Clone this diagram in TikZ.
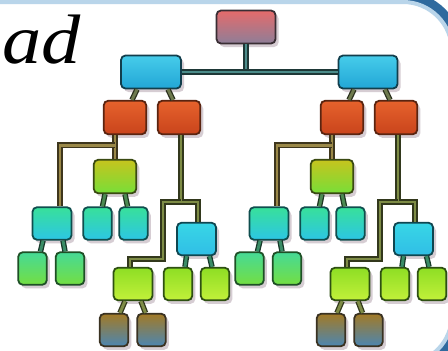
\documentclass[tikz,border=0pt]{standalone}
\usepackage{fontspec}
\setmainfont{Liberation Serif}
\usetikzlibrary{shadows,calc}

\definecolor{roottop}{HTML}{E56B6B}
\definecolor{rootbot}{HTML}{8E7E98}
\definecolor{rootline}{HTML}{3A2E34}
\definecolor{cyantop}{HTML}{46CCEA}
\definecolor{cyanbot}{HTML}{22A6D6}
\definecolor{cyanline}{HTML}{123E4C}
\definecolor{orangetop}{HTML}{E6622C}
\definecolor{orangebot}{HTML}{C9441C}
\definecolor{orangeline}{HTML}{5A2410}
\definecolor{yellowtop}{HTML}{C6C41E}
\definecolor{yellowbot}{HTML}{78DE38}
\definecolor{yellowline}{HTML}{3A4A12}
\definecolor{tealtop}{HTML}{38E09A}
\definecolor{tealbot}{HTML}{2CC6E4}
\definecolor{tealline}{HTML}{0F4E4E}
\definecolor{greentop}{HTML}{46DA96}
\definecolor{greenbot}{HTML}{74DE42}
\definecolor{greenline}{HTML}{1E5026}
\definecolor{aquatop}{HTML}{38D6E6}
\definecolor{aquabot}{HTML}{30BEE6}
\definecolor{aqualine}{HTML}{0F4650}
\definecolor{limetop}{HTML}{8EDE24}
\definecolor{limebot}{HTML}{C2F03A}
\definecolor{limeline}{HTML}{2E5012}
\definecolor{browntop}{HTML}{A27A26}
\definecolor{brownbot}{HTML}{4C86B2}
\definecolor{brownline}{HTML}{3A3222}
\definecolor{shadowc}{HTML}{7A5A6E}
\definecolor{barc}{HTML}{4C8C8A}
\definecolor{olivea}{HTML}{6E7A4E}
\definecolor{olivel}{HTML}{9A8848}
\definecolor{oliveg}{HTML}{7E8C46}
\definecolor{greenl}{HTML}{4C8A52}
\definecolor{teall}{HTML}{3A8C66}
\definecolor{framedark}{HTML}{2F6A9E}
\definecolor{framelight}{HTML}{B9D5EA}

\begin{document}
\begin{tikzpicture}[x=1pt, y=-1pt,
    treebox/.style={rounded corners=4.5pt, line width=1.8pt, inner sep=0pt,
      minimum width=28.5pt, minimum height=32.5pt,
      drop shadow={shadow xshift=3pt, shadow yshift=-3.5pt, fill=shadowc, opacity=.3}},
    sizewide/.style={minimum width=59pt, minimum height=33pt},
    sizemid/.style={minimum width=42.5pt, minimum height=33.5pt},
    sizenarrow/.style={minimum width=39pt, minimum height=32.5pt},
    rootbox/.style={treebox, sizewide, draw=rootline, top color=roottop, bottom color=rootbot},
    cyanbox/.style={treebox, sizewide, draw=cyanline, top color=cyantop, bottom color=cyanbot},
    orangebox/.style={treebox, sizemid, draw=orangeline, top color=orangetop, bottom color=orangebot},
    yellowbox/.style={treebox, sizemid, draw=yellowline, top color=yellowtop, bottom color=yellowbot},
    tealbox/.style={treebox, draw=tealline, top color=tealtop, bottom color=tealbot},
    greenbox/.style={treebox, draw=greenline, top color=greentop, bottom color=greenbot},
    aquabox/.style={treebox, sizenarrow, draw=aqualine, top color=aquatop, bottom color=aquabot},
    limebox/.style={treebox, draw=limeline, top color=limetop, bottom color=limebot},
    brownbox/.style={treebox, draw=brownline, top color=browntop, bottom color=brownbot},
    link/.style={draw=#1!40!black, double=#1, line width=1.3pt, double distance=2.9pt}]
    \useasboundingbox (0,0) rectangle (448,351);
    % Frame
    \fill[white] (0,0) rectangle (448,351);
    \draw[framedark, line width=9pt, rounded corners=55pt] (-60,-4) rectangle (458,370);
    \draw[framelight, line width=4pt, rounded corners=49pt] (-54,2) rectangle (452,364);
    \node[font=\fontsize{70pt}{72pt}\selectfont\itshape, xscale=1.12, anchor=base east, inner sep=0pt] (W) at (81,63) {ad};
    % Nodes
    \node[rootbox] (R) at (246,27) {};
    \node[cyanbox, minimum width=60pt] (A) at (151,72) {};
    \node[cyanbox] (B) at (368,72) {};
    % left half
    \node[orangebox] (P1) at (125,117.5) {};
    \node[orangebox] (Q1) at (179,117.5) {};
    \node[yellowbox] (Y1) at (115,176.5) {};
    \node[tealbox, sizenarrow] (T1) at (52,223.5) {};
    \node[tealbox] (U1) at (97.5,223.5) {};
    \node[tealbox] (V1) at (133.5,223.5) {};
    \node[greenbox] (G1) at (32.5,268.5) {};
    \node[greenbox] (H1) at (70,268.5) {};
    \node[aquabox] (C1) at (196.5,239) {};
    \node[limebox, sizenarrow] (K1) at (133,284) {};
    \node[limebox] (L1) at (178,284) {};
    \node[limebox] (M1) at (215,284) {};
    \node[brownbox] (D1) at (114,330) {};
    \node[brownbox] (E1) at (151.5,330) {};
    % right half
    \node[orangebox] (P2) at (342,117.5) {};
    \node[orangebox] (Q2) at (396,117.5) {};
    \node[yellowbox] (Y2) at (332,176.5) {};
    \node[tealbox, sizenarrow] (T2) at (269,223.5) {};
    \node[tealbox] (U2) at (314.5,223.5) {};
    \node[tealbox] (V2) at (350.5,223.5) {};
    \node[greenbox] (G2) at (249.5,268.5) {};
    \node[greenbox] (H2) at (287,268.5) {};
    \node[aquabox] (C2) at (413.5,239) {};
    \node[limebox, sizenarrow] (K2) at (350,284) {};
    \node[limebox] (L2) at (395,284) {};
    \node[limebox] (M2) at (432,284) {};
    \node[brownbox] (D2) at (331,330) {};
    \node[brownbox] (E2) at (368.5,330) {};
    \coordinate (J1) at (181,202);
    \coordinate (J2) at (398,202);
    % Links
    \draw[link=barc] (R.south) -- (R.south |- A.east);
    \draw[link=barc] (A.east) -- (B.west);
    \draw[link=olivea] ([xshift=-14pt]A.south) -- ([xshift=7pt]P1.north);
    \draw[link=olivea] ([xshift=17pt]A.south) -- ([xshift=-6pt]Q1.north);
    \draw[link=olivea] ([xshift=-14pt]B.south) -- ([xshift=7pt]P2.north);
    \draw[link=olivea] ([xshift=17pt]B.south) -- ([xshift=-6pt]Q2.north);
    \draw[link=olivel] (P1.south -| Y1.north) -- (Y1.north);
    \draw[link=olivel] ($(P1.south -| Y1.north)+(0,10)$) -| ([xshift=8pt]T1.north);
    \draw[link=olivel] (P2.south -| Y2.north) -- (Y2.north);
    \draw[link=olivel] ($(P2.south -| Y2.north)+(0,10)$) -| ([xshift=8pt]T2.north);
    \draw[link=greenl] ([xshift=-10pt]Y1.south) -- ([xshift=5pt]U1.north);
    \draw[link=greenl] ([xshift=10pt]Y1.south) -- ([xshift=-6pt]V1.north);
    \draw[link=greenl] ([xshift=-10pt]Y2.south) -- ([xshift=5pt]U2.north);
    \draw[link=greenl] ([xshift=10pt]Y2.south) -- ([xshift=-6pt]V2.north);
    \draw[link=teall] ([xshift=-9pt]T1.south) -- ([xshift=8pt]G1.north);
    \draw[link=teall] ([xshift=11pt]T1.south) -- ([xshift=-5pt]H1.north);
    \draw[link=teall] ([xshift=-9pt]T2.south) -- ([xshift=8pt]G2.north);
    \draw[link=teall] ([xshift=11pt]T2.south) -- ([xshift=-5pt]H2.north);
    \draw[link=oliveg] (Q1.south -| J1) -- (J1) -| ([xshift=1.5pt]C1.north);
    \draw[link=oliveg] (J1) -| ($(J1)+(-18,57)$) -| ([xshift=-3pt]K1.north);
    \draw[link=oliveg] (Q2.south -| J2) -- (J2) -| ([xshift=1.5pt]C2.north);
    \draw[link=oliveg] (J2) -| ($(J2)+(-18,57)$) -| ([xshift=-3pt]K2.north);
    \draw[link=teall] ([xshift=-10pt]C1.south) -- ([xshift=7pt]L1.north);
    \draw[link=teall] ([xshift=13pt]C1.south) -- ([xshift=-3pt]M1.north);
    \draw[link=teall] ([xshift=-10pt]C2.south) -- ([xshift=7pt]L2.north);
    \draw[link=teall] ([xshift=13pt]C2.south) -- ([xshift=-3pt]M2.north);
    \draw[link=oliveg] ([xshift=-8pt]K1.south) -- ([xshift=6pt]D1.north);
    \draw[link=oliveg] ([xshift=8pt]K1.south) -- ([xshift=-6pt]E1.north);
    \draw[link=oliveg] ([xshift=-8pt]K2.south) -- ([xshift=6pt]D2.north);
    \draw[link=oliveg] ([xshift=8pt]K2.south) -- ([xshift=-6pt]E2.north);
\end{tikzpicture}
\end{document}
